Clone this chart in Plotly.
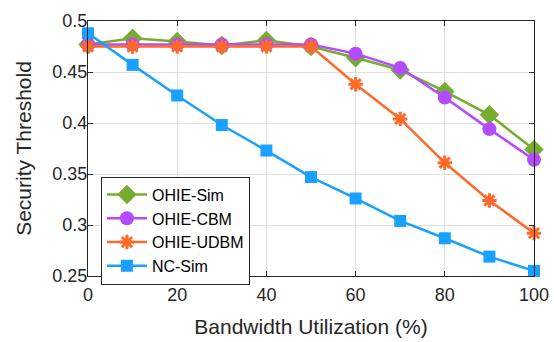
import plotly.graph_objects as go

x = [0, 10, 20, 30, 40, 50, 60, 70, 80, 90, 100]
ohie_sim = [0.477, 0.483, 0.480, 0.476, 0.481, 0.475, 0.464, 0.452, 0.431, 0.408, 0.374]
ohie_cbm = [0.477, 0.477, 0.477, 0.477, 0.477, 0.477, 0.468, 0.454, 0.425, 0.394, 0.364]
ohie_udbm = [0.475, 0.475, 0.475, 0.475, 0.475, 0.475, 0.438, 0.404, 0.361, 0.324, 0.292]
nc_sim = [0.488, 0.457, 0.427, 0.398, 0.373, 0.347, 0.326, 0.304, 0.287, 0.269, 0.255]

names = ["OHIE-Sim", "OHIE-CBM", "OHIE-UDBM", "NC-Sim"]
colors = ["#77AC30", "#B44BFF", "#FF6A2B", "#1AA0FF"]
symbols = ["diamond", "circle", "asterisk-open", "square"]
sizes = [15, 14, 12, 12]
series = [ohie_sim, ohie_cbm, ohie_udbm, nc_sim]

fig = go.Figure()
for name, col, sym, sz, ys in zip(names, colors, symbols, sizes, series):
    fig.add_trace(go.Scatter(
        x=x, y=ys, name=name, mode="lines+markers",
        line=dict(color=col, width=2.5),
        marker=dict(symbol=sym, size=sz, color=col,
                    line=dict(color=col, width=3 if sym == "asterisk-open" else 0)),
        cliponaxis=False,
    ))

axis_common = dict(
    showline=True, linecolor="#262626", linewidth=1, mirror="ticks",
    ticks="inside", ticklen=5, tickcolor="#262626",
    showgrid=True, gridcolor="#DFDFDF", gridwidth=1, zeroline=False,
    tickfont=dict(size=18, color="#262626"), automargin=False,
)

fig.update_layout(
    width=554, height=342,
    margin=dict(l=88, r=20, t=21, b=66),
    paper_bgcolor="white", plot_bgcolor="white",
    font=dict(family="Liberation Sans, Arial, sans-serif", color="#262626"),
    xaxis=dict(range=[0, 100], tickvals=[0, 20, 40, 60, 80, 100],
               ticklabelstandoff=2,
               title=dict(text="Bandwidth Utilization (%)", font=dict(size=21)),
               **axis_common),
    yaxis=dict(range=[0.25, 0.5], tickvals=[0.25, 0.3, 0.35, 0.4, 0.45, 0.5],
               ticktext=["0.25", "0.3", "0.35", "0.4", "0.45", "0.5"],
               ticklabelstandoff=-4,
               title=dict(text="Security Threshold", font=dict(size=21)),
               **axis_common),
    legend=dict(x=0.029, y=0.39, xanchor="left", yanchor="top",
                bgcolor="white", bordercolor="#262626", borderwidth=1,
                font=dict(size=16, color="#000000"), tracegroupgap=0,
                itemwidth=40),
    showlegend=True,
)

fig.write_html("out.html")
